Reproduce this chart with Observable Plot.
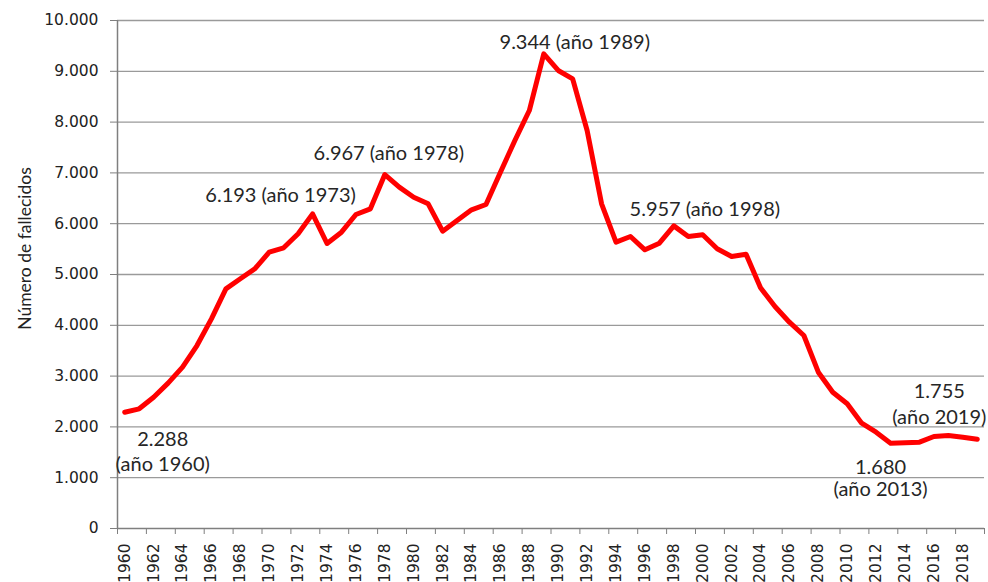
<!DOCTYPE html>
<html><head><meta charset="utf-8">
<script src="https://cdn.jsdelivr.net/npm/d3@7"></script>
<script src="https://cdn.jsdelivr.net/npm/@observablehq/plot@0.6"></script>
<style>body{margin:0;background:#fff;} svg{display:block;}</style>
</head><body><div id="chart"></div>
<script>
const years = [1960,1961,1962,1963,1964,1965,1966,1967,1968,1969,1970,1971,1972,1973,1974,1975,1976,1977,1978,1979,1980,1981,1982,1983,1984,1985,1986,1987,1988,1989,1990,1991,1992,1993,1994,1995,1996,1997,1998,1999,2000,2001,2002,2003,2004,2005,2006,2007,2008,2009,2010,2011,2012,2013,2014,2015,2016,2017,2018,2019];
const deaths = [2288,2356,2585,2861,3176,3602,4127,4718,4915,5112,5440,5525,5801,6193,5610,5833,6181,6293,6967,6719,6522,6391,5853,6063,6273,6378,7014,7638,8228,9344,9016,8852,7835,6391,5636,5748,5486,5617,5957,5748,5781,5506,5354,5400,4738,4370,4061,3799,3077,2683,2455,2073,1896,1680,1690,1700,1811,1830,1797,1755];
const yTicks = [0,1000,2000,3000,4000,5000,6000,7000,8000,9000,10000];
const xTickYears = [1960,1962,1964,1966,1968,1970,1972,1974,1976,1978,1980,1982,1984,1986,1988,1990,1992,1994,1996,1998,2000,2002,2004,2006,2008,2010,2012,2014,2016,2018];
const annYears = [1960,1973,1978,1989,1998,2013,2019];
const annLabels = ["2.288\n(año 1960)","6.193 (año 1973)","6.967 (año 1978)","9.344 (año 1989)","5.957 (año 1998)","1.680\n(año 2013)","1.755\n(año 2019)"];
const yTitle = "Número de fallecidos";

const data = years.map((y, i) => ({year: y, value: deaths[i]}));
const ann = annYears.map((y, i) => ({year: y, value: deaths[years.indexOf(y)], label: annLabels[i]}));
const boundaries = xTickYears.map(y => y - 0.5).concat([years[years.length - 1] + 0.5]);
const fmt = d => d3.format(",")(d).replace(/,/g, ".");

// per-annotation placement (style offsets)
const annStyle = [
  {dx: 38, dy: 38, lineHeight: 1.28},
  {dx: -32, dy: -18},
  {dx: 4, dy: -21},
  {dx: 31, dy: -11},
  {dx: 31, dy: -16},
  {dx: -10, dy: 35, lineHeight: 1.09},
  {dx: -38, dy: -37, lineHeight: 1.33}
];

const annMarks = ann.map((a, i) => Plot.text([a], {
  x: "year", y: "value", text: "label",
  fontFamily: "Lato", fontSize: 20, fill: "#262626",
  ...annStyle[i]
}));

const chart = Plot.plot({
  width: 988, height: 582,
  marginLeft: 117, marginRight: 4, marginTop: 20, marginBottom: 54,
  style: {fontFamily: "DejaVu Sans", fontSize: "15px", color: "#222", background: "white"},
  x: {type: "linear", domain: [years[0] - 0.5, years[years.length - 1] + 0.5], axis: null},
  y: {domain: [0, 10000], axis: null},
  marks: [
    Plot.gridY(yTicks.filter(d => d > 0), {stroke: "#9a9a9a", strokeOpacity: 1, strokeWidth: 1.3}),
    Plot.axisY(yTicks, {label: null, tickSize: 7, tickPadding: 12, tickFormat: fmt, stroke: "#7f7f7f", fontSize: 15.5, fill: "#222"}),
    Plot.axisX(boundaries, {label: null, tickSize: 6, tickFormat: () => "", stroke: "#7f7f7f"}),
    Plot.axisX(xTickYears, {label: null, tickSize: 0, tickPadding: 15, tickRotate: -90, tickFormat: d => String(d), fontSize: 15.5, fill: "#222"}),
    Plot.ruleY([0], {stroke: "#7f7f7f", strokeWidth: 1.5}),
    Plot.ruleX([years[0] - 0.5], {stroke: "#7f7f7f", strokeWidth: 1.5}),
    Plot.text([yTitle], {frameAnchor: "left", textAnchor: "middle", lineAnchor: "middle", rotate: -90, dx: -92, dy: -26, fontFamily: "Lato", fontSize: 17.5, fill: "#222"}),
    Plot.line(data, {x: "year", y: "value", stroke: "#ff0000", strokeWidth: 5, strokeLinejoin: "round", strokeLinecap: "round"}),
    ...annMarks
  ]
});
document.getElementById("chart").append(chart);
</script>
</body></html>
